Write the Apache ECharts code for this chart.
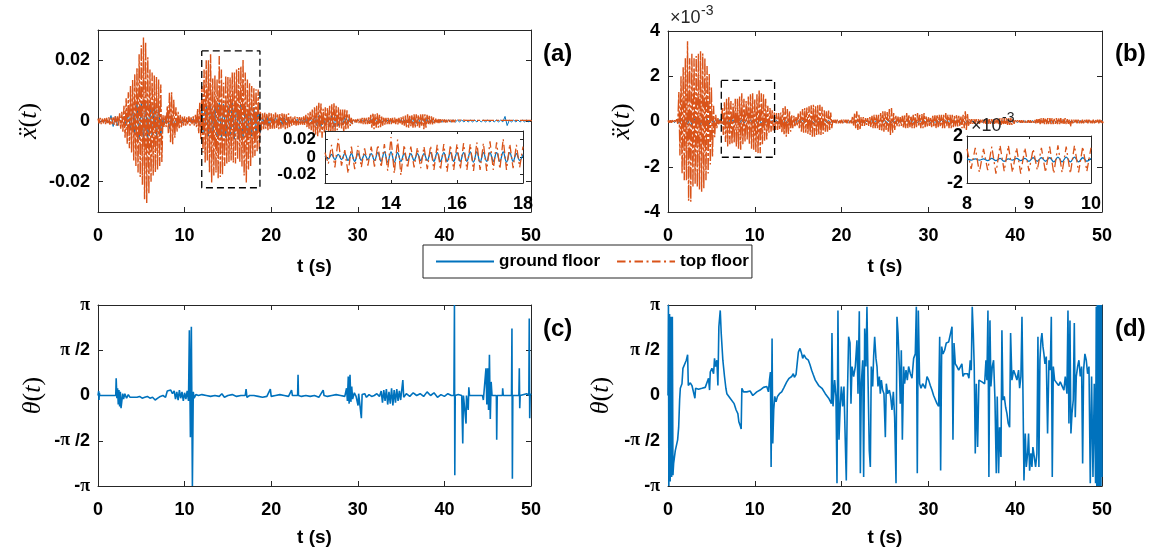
<!DOCTYPE html>
<html>
<head>
<meta charset="utf-8">
<script src="https://cdn.jsdelivr.net/npm/echarts@6/dist/echarts.min.js"></script>
<style>
  html, body { margin: 0; padding: 0; background: #fff; }
  #chart { width: 1151px; height: 553px; }
</style>
</head>
<body>
<div id="chart"></div>
<script>
// ---- data (acceleration values in units of 1e-3) ----
const envStep = 0.25;   // s between envelope readings of the top floor
const blueStep = 0.5;   // s between envelope readings of the ground floor

// (a) top floor: upper / lower envelope, t = 0 .. 50
const topUpA = [
  0.8,1,0.8,1, 1,1.2,1,1.2, 1.5,1.5,2.5,3, 5,7.5,9.5,11.5, 13.5,15.5,17.5,22,
  25,27.5,26,21, 17,16,15,14.5, 13.7,12,2,1.8, 5,9.3,9.5,7, 4.5,3,2,1.5,
  1.5,1.2,1.5,1.2, 1.5,2,4,6, 11.5,17,20,20, 22,14,15,13.7, 21.4,17,12.6,15,
  14.5,14.3,16,16, 17,17.5,18,20.3, 16,13.7,12.5,11.5, 11,10.5,10.4,3, 2.5,2.8,2.5,2.7,
  2.5,2.2,2.8,2.5, 2.3,2.5,2.6,2.2, 2.5,1.5,1.2,1.5, 1.3,1.5,1.2,1.5, 2,2.5,3,3.8,
  4.5,5,6,5.8, 4,4.5,4.3,5, 5.5,6,5,4.5, 3.8,3.8,3.8,3.5, 2.2,1,0.5,0.5,
  0.7,0.8,1,1, 1,1.2,2,2.7, 2.2,2.5,2,1.7, 1.3,1,1,1, 1,1.1,1,1,
  1.2,1.5,1.8,2.2, 1.7,2,2.2,2.2, 2,2.2,2.2,2.2, 2,1.7,1.5,1.2, 0.8,0.8,0.6,0.5,
  0.5,0.4,0.4,0.4, 0.4,0.3,0.3,0.3, 0.3,0.3,0.2,0.2, 0.2,0.2,0.2,0.2, 0.2,0.2,0.2,0.2,
  0.2,0.2,0.2,0.2, 0.2,0.2,0.2,0.2, 0.2,0.2,0.2,0.2, 0.2,0.2,0.2,0.2, 0.2,0.2,0.2,0.2,
  0.2
];
const topLowA = [
  -0.8,-1,-0.8,-1, -1,-1.2,-1,-1.2, -1.5,-1.5,-2.5,-3.5, -5.5,-7.5,-9,-10.4, -13,-14.8,-17,-18.5,
  -21,-25.8,-27,-24, -20,-18,-17,-16, -14.8,-13.5,-2,-2, -4,-7,-7.7,-5.5, -3.5,-2.7,-2,-1.5,
  -1.5,-1.2,-1.5,-1.2, -1.5,-2,-4,-6, -10.4,-13.7,-13,-17, -20.3,-18,-17,-19, -18.5,-17.6,-14.8,-14,
  -13.5,-13,-13.7,-14, -12.6,-13.5,-15,-18, -20.3,-16,-14.8,-12, -11.5,-10,-9.3,-3, -2.7,-2.5,-3,-2.6,
  -2.8,-2.5,-2.3,-2.7, -2.5,-2.2,-2.7,-2.4, -2,-1.5,-1.3,-1.5, -1.4,-1.2,-1.5,-1.3, -2,-2.5,-3,-3.8,
  -4.5,-5,-4,-5.5, -3.8,-3.3,-3.5,-4.5, -3.8,-3.5,-3,-2.2, -2.5,-3.8,-2.7,-2.5, -1.6,-1,-0.5,-0.5,
  -0.7,-0.8,-1,-1, -1,-1.3,-2.2,-2.7, -2.2,-2.2,-2,-1.5, -1.2,-1,-1,-1, -1,-1,-1.1,-1,
  -1.2,-1.5,-2,-2.2, -1.7,-2.2,-2.2,-1.7, -2.2,-1.7,-2.7,-2.2, -1.1,-1.2,-1.1,-0.8, -0.8,-0.7,-0.6,-0.5,
  -0.5,-0.4,-0.4,-0.4, -0.4,-0.3,-0.3,-0.3, -0.3,-0.3,-0.2,-0.2, -0.2,-0.2,-0.2,-0.2, -0.2,-0.2,-0.2,-0.2,
  -0.2,-0.2,-0.2,-0.2, -0.2,-0.2,-0.2,-0.2, -0.2,-0.2,-0.2,-0.2, -0.2,-0.2,-0.2,-0.2, -0.2,-0.2,-0.2,-0.2,
  -0.2
];
// (a) ground floor: amplitude, t = 0 .. 50 every 0.5 s
const groundAmpA = [
  0.3,0.3,0.5,1.8,1.5,0.5,1.5,3,4.5,6,
  6.5,6,5.5,5,5,0.8,2.5,2,1,0.6,
  0.5,0.5,0.8,1.5,4,5,5.5,5,6,5.5,
  5,6,6,5.5,5,5,4.5,4,1.2,1.5,
  1.2,1.3,1.2,1.1,0.8,0.6,0.6,0.6,0.8,1,
  1.5,1.8,1.5,1.8,2,1.5,1.3,1.2,0.8,0.3,
  0.3,0.4,0.5,0.8,0.8,0.6,0.4,0.4,0.4,0.4,
  0.5,0.6,0.8,0.8,0.8,0.8,0.7,0.5,0.4,0.4,
  0.4,0.4,0.4,0.3,0.3,0.3,0.3,0.3,0.3,0.3,
  0.3,0.3,0.3,0.3,1.5,0.3,0.3,0.3,0.3,0.3,
  0.3
];

// (b) top floor envelope
const topUpB = [
  0.05,0.05,0.05,0.05, 0.1,1.3,2,2.4, 2.8,3.55,2.8,3, 2.8,2.9,3,3.1, 3,2.8,2.45,2.1,
  1.5,0.7,0.3,0.15, 0.1,0.6,0.85,1, 1.1,0.9,0.8,1, 1,1.1,1.25,1, 0.9,1.1,1.2,1.25,
  1,1.2,1.4,1.25, 1.2,1,0.7,0.6, 0.5,0.4,0.37,0.37, 0.4,0.6,0.67,0.55, 0.45,0.3,0.25,0.2,
  0.35,0.45,0.55,0.6, 0.62,0.67,0.72,0.74, 0.67,0.72,0.74,0.65, 0.5,0.45,0.48,0.4, 0.1,0.08,0.08,0.08,
  0.08,0.08,0.08,0.08, 0.08,0.2,0.37,0.45, 0.3,0.2,0.2,0.15, 0.15,0.2,0.25,0.3, 0.3,0.3,0.37,0.45,
  0.45,0.42,0.55,0.6, 0.37,0.25,0.22,0.2, 0.25,0.3,0.37,0.3, 0.25,0.3,0.33,0.37, 0.3,0.33,0.37,0.25,
  0.2,0.2,0.25,0.27, 0.3,0.3,0.3,0.3, 0.37,0.3,0.3,0.3, 0.25,0.3,0.25,0.22, 0.3,0.45,0.35,0.1,
  0.1,0.1,0.1,0.1, 0.08,0.08,0.1,0.1, 0.1,0.1,0.1,0.1, 0.12,0.15,0.15,0.15, 0.15,0.15,0.15,0.1,
  0.05,0.05,0.05,0.05, 0.05,0.05,0.05,0.05, 0.05,0.08,0.1,0.15, 0.15,0.15,0.15,0.15, 0.15,0.15,0.12,0.15,
  0.15,0.15,0.12,0.15, 0.1,0.08,0.08,0.08, 0.08,0.08,0.08,0.08, 0.08,0.08,0.08,0.08, 0.08,0.08,0.08,0.08,
  0.08
];
const topLowB = [
  -0.05,-0.05,-0.05,-0.05, -0.1,-1.5,-2.3,-2.6, -2.6,-3.5,-3.55,-2.9, -2.75,-2.9,-3,-3.1, -2.95,-2.6,-2.3,-1.9,
  -1.55,-0.7,-0.3,-0.15, -0.1,-0.6,-0.9,-1.1, -1,-1,-0.95,-1.1, -1.2,-1.25,-1,-0.9, -0.8,-1,-1.2,-1.25,
  -1.35,-1.4,-1.4,-1, -0.85,-0.8,-0.5,-0.45, -0.4,-0.37,-0.37,-0.37, -0.5,-0.6,-0.67,-0.55, -0.45,-0.3,-0.25,-0.2,
  -0.3,-0.45,-0.5,-0.5, -0.55,-0.6,-0.67,-0.67, -0.6,-0.6,-0.6,-0.55, -0.45,-0.45,-0.37,-0.3, -0.1,-0.08,-0.08,-0.08,
  -0.08,-0.08,-0.08,-0.08, -0.08,-0.2,-0.3,-0.37, -0.37,-0.2,-0.2,-0.15, -0.2,-0.25,-0.3,-0.3, -0.3,-0.37,-0.4,-0.45,
  -0.37,-0.45,-0.6,-0.5, -0.37,-0.22,-0.22,-0.2, -0.3,-0.3,-0.3,-0.25, -0.3,-0.3,-0.25,-0.22, -0.3,-0.3,-0.25,-0.22,
  -0.2,-0.25,-0.25,-0.3, -0.25,-0.25,-0.3,-0.3, -0.22,-0.3,-0.3,-0.25, -0.22,-0.22,-0.22,-0.3, -0.3,-0.37,-0.22,-0.1,
  -0.1,-0.1,-0.1,-0.1, -0.08,-0.08,-0.1,-0.1, -0.1,-0.1,-0.1,-0.1, -0.12,-0.15,-0.15,-0.15, -0.15,-0.15,-0.15,-0.1,
  -0.05,-0.05,-0.05,-0.05, -0.05,-0.05,-0.05,-0.05, -0.05,-0.08,-0.1,-0.12, -0.12,-0.12,-0.12,-0.12, -0.12,-0.12,-0.1,-0.12,
  -0.12,-0.12,-0.1,-0.12, -0.1,-0.22,-0.08,-0.08, -0.08,-0.08,-0.08,-0.08, -0.08,-0.08,-0.08,-0.08, -0.08,-0.08,-0.08,-0.08,
  -0.08
];
const groundAmpB = [
  0.03,0.05,0.08,0.15,0.15,0.15,0.15,0.15,0.15,0.12,
  0.1,0.1,0.1,0.08,0.08,0.08,0.08,0.08,0.08,0.08,
  0.08,0.08,0.06,0.06,0.05,0.05,0.05,0.05,0.05,0.05,
  0.05,0.06,0.06,0.06,0.06,0.06,0.05,0.05,0.04,0.04,
  0.04,0.04,0.04,0.04,0.04,0.04,0.04,0.04,0.04,0.04,
  0.05,0.05,0.05,0.05,0.05,0.05,0.05,0.05,0.05,0.05,
  0.05,0.05,0.05,0.05,0.05,0.05,0.05,0.05,0.05,0.05,
  0.04,0.04,0.04,0.04,0.04,0.04,0.04,0.04,0.04,0.04,
  0.04,0.04,0.04,0.04,0.04,0.04,0.04,0.04,0.04,0.04,
  0.04,0.04,0.04,0.04,0.04,0.04,0.04,0.04,0.04,0.04,
  0.04
];

// insets: half-cycle extremes
const insetStartA = 12, insetStepA = 0.1;
const insetTopA = [
  5,-8,14,-12,21,-10,8,-19,12,-14,
  13,-12,10,-10,12,-11,14,-12,15,-16,
  23,-19,20,-21,14,-13,12,-12,11,-13,
  12,-14,13,-15,14,-15,15,-17,14,-15,
  15,-14,16,-15,15,-16,17,-15,16,-16,
  18,-15,17,-14,21,-15,15,-13,14,-12,
  12
];
const insetGroundA = [
  1,-2,3,-3,3,-3,4,-4,4,-5,
  4,-4,3,-3,4,-4,5,-5,6,-6,
  6,-6,5,-5,4,-4,4,-4,4,-4,
  4,-4,5,-5,5,-5,5,-5,5,-5,
  5,-5,5,-5,6,-6,6,-6,5,-5,
  5,-5,5,-5,6,-6,5,-5,4,-4,
  3
];
const insetTicksA = [-20, 0, 20];
const insetStartB = 8, insetStepB = 2 / 30;
const insetTopB = [0.9,-0.8,1.0,-1.1,0.9,-0.9,1.1,-1.2,1.2,-1.0,1.2,-1.1,1.0,-1.2,1.0,-1.0,
  0.9,-0.9,1.0,-1.1,1.1,-1.2,1.2,-1.1,1.1,-1.2,1.2,-1.1,1.1,-1.0,1.0];
const insetGroundB = [0.05,-0.05,0.05,-0.05,0.05,-0.1,0.1,-0.1,0.1,-0.15,0.05,-0.05,0.1,-0.1,0.1,-0.15,
  0.15,-0.15,0.15,-0.15,0.15,-0.2,0.2,-0.2,0.2,-0.2,0.2,-0.2,0.15,-0.15,0.1];

// dashed zoom boxes: [t0, t1, low, high]
const zoomBoxA = [11.98, 18.7, -22, 23.1];
const zoomBoxB = [6.14, 12.28, -1.58, 1.82];

// theta(t), in units of pi: [t, theta/pi]
const thetaC = [
  [0,0],[0.08,0.05],[0.12,-0.05],[0.16,0.03],[0.2,0],[1,0],[2.05,0],[2.1,0.19],[2.18,-0.03],[2.26,0.08],
  [2.34,-0.1],[2.42,0.06],[2.5,-0.12],[2.58,0.04],[2.66,-0.14],[2.76,-0.16],[2.85,0.02],[2.95,-0.04],[3.1,0.02],
  [3.3,-0.03],[3.5,0.01],[3.7,-0.02],[3.9,0],[4.2,-0.02],[4.5,-0.02],[4.8,-0.01],[5.1,-0.03],[5.4,-0.02],
  [5.7,-0.01],[6,-0.03],[6.3,-0.02],[6.6,-0.05],[6.9,-0.03],[7.2,-0.01],[7.5,0],[7.8,-0.02],[8,0.05],[8.2,0.03],
  [8.4,0.06],[8.6,0.02],[8.8,0.05],[8.95,-0.04],[9.1,0.04],[9.25,-0.05],[9.4,0.06],[9.55,-0.03],[9.7,0.04],
  [9.85,-0.06],[10,0.03],[10.15,-0.04],[10.3,0.05],[10.45,-0.06],[10.55,0.72],[10.67,-0.46],[10.78,0.76],
  [10.9,-1],[11,0.04],[11.1,-0.03],[11.3,0.01],[11.6,0],[12,0.01],[12.5,0],[13,-0.01],[13.5,0],[14,-0.01],
  [14.3,0.02],[14.6,-0.02],[15,0],[15.5,0.01],[16,-0.01],[16.5,0],[17,0],[17.1,0.07],[17.2,-0.02],[17.5,0],
  [18,0],[18.5,-0.01],[19,-0.02],[19.5,-0.01],[19.9,0.07],[20,-0.01],[20.5,0],[21,0.01],[21.5,0],[22,-0.01],
  [22.35,0.06],[22.45,0],[22.8,0],[23.05,0],[23.1,0.23],[23.15,0],[23.5,-0.01],[24,0],[24.5,-0.01],[25,0],
  [25.5,-0.02],[26,0.06],[26.1,0],[26.5,-0.01],[27,0],[27.5,0.01],[28,0],[28.5,-0.01],[28.7,0.08],[28.8,-0.06],
  [28.9,0.21],[29,-0.09],[29.1,0.23],[29.2,-0.07],[29.3,0.1],[29.4,-0.04],[29.6,0.03],[29.8,-0.01],[30,0],
  [30.03,-0.11],[30.1,0.02],[30.3,0],[30.41,-0.25],[30.5,0.01],[30.8,0.02],[31,-0.02],[31.3,0.01],[31.6,-0.01],
  [31.9,0],[32.2,0.02],[32.5,-0.01],[32.7,0.05],[32.85,-0.08],[33,0.06],[33.15,-0.06],[33.3,0.07],[33.45,-0.1],
  [33.6,0.04],[33.75,-0.09],[33.9,0.08],[34.05,-0.11],[34.2,0.06],[34.35,-0.08],[34.5,0.07],[34.65,-0.06],
  [34.8,0.05],[34.95,-0.05],[35.2,0.17],[35.3,-0.02],[35.6,0.02],[36,-0.01],[36.4,0.03],[36.8,0],[37.2,0.02],
  [37.6,-0.01],[38,0.04],[38.4,0],[38.8,0.03],[39.2,-0.02],[39.6,0.01],[40,-0.01],[40.4,0.02],[40.8,0],[41.1,0],
  [41.16,1],[41.2,-0.88],[41.25,0],[41.6,0.01],[42,0],[42.12,-0.53],[42.2,0],[42.5,-0.31],[42.55,0],[42.75,-0.16],
  [42.82,0.09],[42.9,0],[43.5,0],[44,0],[44.4,0],[44.5,-0.05],[44.8,0.3],[44.9,-0.1],[45,0.3],[45.1,-0.16],
  [45.2,0.45],[45.3,-0.26],[45.4,0.15],[45.5,0],[46,0],[46.04,-0.49],[46.1,0],[46.7,0],[46.73,0.08],[46.8,0],
  [47.75,0],[47.8,0.74],[47.85,-0.92],[47.9,0],[48.6,0],[48.65,0.3],[48.7,-0.14],[48.75,0],[49.5,0.02],[49.75,0],
  [49.8,0.85],[49.85,-0.25],[49.9,0],[50,0.02]
];
const thetaD = [
  [0,0],[0.05,1],[0.1,-1],[0.18,0.9],[0.25,-0.95],[0.33,0.87],[0.42,-0.9],[0.5,0.87],[0.57,-0.88],[0.65,-0.75],
  [0.84,-0.61],[1.11,-0.49],[1.23,-0.35],[1.34,-0.05],[1.42,0.08],[1.61,0.13],[1.72,0.3],[1.88,0.28],[2.11,0.39],
  [2.26,0.45],[2.34,0.11],[2.57,0.14],[2.76,0.11],[2.95,0.09],[3.1,-0.03],[3.18,0.08],[3.52,0.07],[3.91,0.08],
  [4.29,0.09],[4.48,0.1],[4.67,0.19],[4.79,0.06],[4.87,0.26],[5.06,0.3],[5.25,0.24],[5.36,0.41],[5.48,0.32],
  [5.63,0.39],[5.75,0.11],[5.86,0.76],[6.02,0.94],[6.13,0.69],[6.32,0.39],[6.51,0.21],[6.67,0.08],[6.78,0.02],
  [6.97,0.04],[7.16,-0.03],[7.36,-0.05],[7.62,-0.09],[7.85,-0.16],[8.05,-0.2],[8.16,-0.29],[8.31,-0.33],
  [8.43,-0.37],[8.51,0.08],[8.7,0.04],[8.89,0.06],[9.08,0.04],[9.27,0.04],[9.46,0.05],[9.77,0],[9.96,-0.01],
  [10.23,0.04],[10.61,0.06],[11,0.09],[11.38,0.1],[11.57,0.04],[11.69,0.17],[11.8,0.26],[11.88,-0.79],
  [11.99,0.63],[12.07,-0.53],[12.18,-0.16],[12.3,-0.01],[12.45,-0.07],[12.61,-0.01],[12.84,0.02],[13.1,0.04],
  [13.37,0.09],[13.68,0.15],[13.95,0.19],[14.25,0.21],[14.44,0.24],[14.56,0.2],[14.75,0.23],[14.94,0.21],
  [15.02,0.48],[15.21,0.52],[15.4,0.46],[15.52,0.41],[15.67,0.45],[15.9,0.41],[16.17,0.39],[16.36,0.34],
  [16.55,0.28],[16.74,0.23],[16.97,0.17],
  [17.36,0.11],[17.74,0.08],[18.12,0.02],[18.51,-0.03],[18.82,-0.09],[18.89,0.69],[19.01,-0.12],[19.2,0.17],
  [19.35,-0.01],[19.47,-0.97],[19.58,0.94],[19.7,-0.49],[19.85,-0.09],[19.97,0.1],[20.12,-0.12],[20.27,0.1],
  [20.43,-0.53],[20.54,-0.94],[20.66,-0.05],[20.81,0.65],[20.97,0.58],[21.08,-0.09],[21.2,0.32],[21.39,0.21],
  [21.58,0.32],[21.77,0.61],[21.89,0.02],[22.04,0.93],[22.16,-0.86],[22.27,0.13],[22.43,0.39],[22.54,-0.9],
  [22.66,0.74],[22.81,0.32],[22.92,0.98],[23.04,0.21],[23.19,-0.61],[23.31,-0.79],[23.42,0.32],[23.58,0.1],
  [23.69,0.43],[23.81,0.65],[23.96,0.41],[24.08,0.32],[24.19,0.1],[24.35,0.21],[24.46,0.02],[24.58,0.17],
  [24.73,0.06],[24.88,0.02],[25.04,-0.46],[25.15,0.13],[25.31,0.02],[25.5,0.06],[25.65,-0.01],[25.8,-0.16],
  [25.96,0.04],[26.11,-0.24],[26.27,-0.97],[26.38,0.87],[26.5,0.69],[26.65,0.32],[26.76,-0.09],[26.88,0.5],
  [27,-0.49],[27.15,0.32],[27.26,0.13],[27.42,0.28],[27.57,0.17],[27.72,0.32],[27.92,0.24],[28.11,0.19],
  [28.3,0.41],[28.49,0.46],[28.61,0.98],[28.72,-0.86],[28.84,0.94],[28.99,0.13],[29.15,0.08],[29.34,0.13],
  [29.49,0.11],[29.64,0.08],[29.84,0.21],[30.03,0.17],[30.22,0.11],[30.41,0.06],[30.6,0],[30.8,-0.01],
  [30.99,-0.09],[31.18,-0.12],[31.3,0.65],[31.41,-0.83],[31.53,0.54],[31.68,0.46],[31.87,0.5],[32.06,0.58],
  [32.33,0.59],[32.52,0.61],[32.72,0.76],[32.83,-0.49],[32.95,0.58],[33.1,0.35],[33.29,0.32],[33.49,0.28],
  [33.67,0.26],[33.86,0.35],[33.98,0.21],[34.13,0.24],[34.36,0.23],[34.52,0.24],[34.67,0.19],[34.82,0.39],
  [34.94,0.28],[35.05,0.98],[35.17,0.69],[35.28,0.32],[35.4,-0.64],[35.52,0.13],[35.67,-0.57],[35.82,0.17],
  [35.98,0.19],[36.17,0.15],[36.36,0.17],[36.48,0.13],[36.63,0.39],[36.74,0.17],[36.86,0.94],[36.97,-0.9],
  [37.09,0.83],[37.2,0.1],[37.36,0.32],[37.51,0.39],[37.67,-0.05],[37.82,-0.86],[37.93,-0.01],[38.09,-0.86],
  [38.2,-0.35],[38.36,-0.68],[38.47,0.72],[38.59,-0.05],[38.74,-0.01],[38.9,-0.13],[39.05,-0.2],[39.2,-0.31],
  [39.36,-0.35],[39.47,0.69],[39.62,0.17],[39.82,0.28],[40.01,0.23],[40.2,0.17],[40.39,0.28],[40.51,0.08],
  [40.66,0.21],[40.78,0.87],[40.89,0.06],[41.01,-0.94],[41.16,-0.42],[41.28,-0.79],[41.43,-0.64],[41.54,-0.42],
  [41.66,-0.83],[41.81,-0.64],[41.93,-0.79],[42.04,-0.57],[42.2,-0.68],[42.35,-0.79],[42.5,-0.64],[42.62,0.65],
  [42.73,-0.79],[42.85,0.39],[42.97,0.61],[43.08,0.69],[43.2,0.54],[43.31,0.46],[43.43,0.35],[43.58,0.43],
  [43.73,-0.42],[43.89,0.39],[44.04,0.28],[44.16,0.87],[44.27,-0.9],[44.39,0.32],[44.54,0.17],[44.73,0.15],
  [45,0.11],[45.19,0.15],[45.42,0.13],[45.61,0.06],[45.77,0.21],[45.96,0.02],[46.08,0.94],[46.19,-0.31],
  [46.31,0.83],[46.42,-0.42],[46.54,-0.2],[46.69,-0.05],[46.81,0.8],[46.92,-0.24],[47.04,0.21],[47.19,0.32],
  [47.34,0.39],[47.5,0.21],[47.65,0.32],[47.77,-0.75],[47.88,0.28],[48.03,0.46],[48.19,0.39],[48.34,0.24],
  [48.5,0.32],[48.65,-0.97],[48.8,0.21],[48.96,-0.9],[49.11,0.13],[49.26,-0.97],[49.34,0.98],[49.4,-1],
  [49.46,1],[49.52,-1],[49.58,1],[49.64,-1],[49.7,1],[49.76,-1],[49.82,1],[49.88,-1],[49.94,1],[50,-0.9]
];

// ---- styling ----
const AX = '#262626';
const BLUE = '#0072BD';
const ORANGE = '#D95319';
const DASHDOT = [8.5, 3.5, 2, 3.5];
const DENSE_DASHDOT = [12, 2, 3, 2];
const SANS = 'Liberation Sans, Arial, Helvetica, sans-serif';
const SERIF = 'Liberation Serif, DejaVu Serif, serif';

// envelope readings -> alternating trace
function zigzag(start, step, up, low) {
  const pts = [];
  for (let i = 0; i < up.length; i++) {
    const t = start + i * step;
    pts.push([t, up[i]]);
    pts.push([t + step / 2, low[i]]);
  }
  return pts;
}
function zigzagSym(start, step, amp) {
  return zigzag(start, step, amp, amp.map(a => -a));
}
function sampled(start, step, vals) {
  return vals.map((v, i) => [start + i * step, v]);
}
function boxPath(b) {
  return [[b[0], b[3]], [b[1], b[3]], [b[1], b[2]], [b[0], b[2]], [b[0], b[3]]];
}

const titleRich = {
  i: { fontFamily: SERIF, fontStyle: 'italic', fontSize: 26, color: '#000' },
  r: { fontFamily: SERIF, fontSize: 26, color: '#000' }
};
const labelFont = { color: '#000', fontFamily: SANS, fontWeight: 'bold', fontSize: 18 };

function xAxes(g, min, max, interval, o = {}) {
  const base = {
    type: 'value', gridIndex: g, min, max, interval, z: o.z || 0,
    axisLine: { show: true, onZero: false, lineStyle: { color: AX, width: 1 } },
    axisTick: { show: true, inside: true, length: o.tick || 5, lineStyle: { color: AX } },
    splitLine: { show: false }
  };
  return [
    Object.assign({}, base, {
      position: 'bottom',
      axisLabel: Object.assign({ margin: o.margin || 15, hideOverlap: false }, labelFont),
      name: o.name || '', nameLocation: 'middle', nameGap: o.nameGap || 40,
      nameTextStyle: { color: '#000', fontFamily: SANS, fontWeight: 'bold', fontSize: 19 }
    }),
    Object.assign({}, base, { position: 'top', axisLabel: { show: false } })
  ];
}

function yAxes(g, min, max, interval, o = {}) {
  const tick = { show: true, inside: true, length: o.tick || 5, lineStyle: { color: AX } };
  const label = Object.assign({ margin: o.margin || 8, hideOverlap: false, show: o.noLabel ? false : true }, labelFont);
  if (o.ticks) { tick.customValues = o.ticks; label.customValues = o.ticks; }
  if (o.fmt) label.formatter = o.fmt;
  if (o.rich) label.rich = o.rich;
  const base = {
    type: 'value', gridIndex: g, min, max, interval, z: o.z || 0,
    axisLine: { show: true, onZero: false, lineStyle: { color: AX, width: 1 } },
    axisTick: tick,
    splitLine: { show: false }
  };
  return [
    Object.assign({}, base, {
      position: 'left', axisLabel: label,
      name: o.name || '', nameLocation: 'middle', nameRotate: 90, nameGap: o.nameGap || 54,
      nameTextStyle: { rich: titleRich }
    }),
    Object.assign({}, base, { position: 'right', axisLabel: { show: false } })
  ];
}

const milliFmt = v => String(Math.round(v) / 1000);
const piLabels = { '-1': '{b|-}{p|π}', '-0.5': '{b|-}{p|π}{b| /2}', '0': '{b|0}', '0.5': '{p|π}{b| /2}', '1': '{p|π}' };
const piFmt = v => piLabels[String(v)] || '';
const piRich = {
  p: { fontFamily: SERIF, fontSize: 18, color: '#000' },
  b: { fontFamily: SANS, fontWeight: 'bold', fontSize: 18, color: '#000' }
};

function line(name, g, data, o = {}) {
  return {
    name, type: 'line', xAxisIndex: 2 * g, yAxisIndex: 2 * g, data,
    symbol: 'none', silent: true, animation: false, z: o.z || 2,
    smooth: o.smooth || false,
    lineStyle: { color: o.color || BLUE, width: o.width || 1, type: o.type || 'solid' },
    itemStyle: { color: o.color || BLUE },
    emphasis: { disabled: true }
  };
}

function textEl(text, x, y, size, extra = {}) {
  return {
    type: 'text', x, y, z: 20, silent: true,
    style: Object.assign({ text, fontFamily: SANS, fontWeight: 'bold', fontSize: size, fill: '#000', verticalAlign: 'middle' }, extra)
  };
}

const chart = echarts.init(document.getElementById('chart'));

chart.setOption({
  animation: false,
  backgroundColor: '#fff',
  grid: [
    { left: 98, top: 30, width: 433, height: 182 },
    { left: 668, top: 31, width: 434, height: 181 },
    { left: 98, top: 305, width: 433, height: 181 },
    { left: 668, top: 305, width: 434, height: 181 },
    { left: 325, top: 131, width: 198, height: 52, show: true, backgroundColor: '#fff', borderWidth: 0, z: 10 },
    { left: 967, top: 136, width: 124, height: 47, show: true, backgroundColor: '#fff', borderWidth: 0, z: 10 }
  ],
  xAxis: [].concat(
    xAxes(0, 0, 50, 10, { name: 't (s)', nameGap: 45 }),
    xAxes(1, 0, 50, 10, { name: 't (s)', nameGap: 45 }),
    xAxes(2, 0, 50, 10, { name: 't (s)', nameGap: 42 }),
    xAxes(3, 0, 50, 10, { name: 't (s)', nameGap: 42 }),
    xAxes(4, 12, 18, 2, { margin: 12, z: 11, tick: 3 }),
    xAxes(5, 8, 10, 1, { margin: 12, z: 11, tick: 3 })
  ),
  yAxis: [].concat(
    yAxes(0, -30, 30, 10, { ticks: [-20, 0, 20], fmt: milliFmt, name: '{i|ẍ}{r|(}{i|t}{r|)}', nameGap: 56 }),
    yAxes(1, -4, 4, 2, { name: '{i|ẍ}{r|(}{i|t}{r|)}', nameGap: 33 }),
    yAxes(2, -1, 1, 0.5, { fmt: piFmt, rich: piRich, name: '{i|θ}{r|(}{i|t}{r|)}', nameGap: 52 }),
    yAxes(3, -1, 1, 0.5, { fmt: piFmt, rich: piRich, name: '{i|θ}{r|(}{i|t}{r|)}', nameGap: 54 }),
    yAxes(4, -30, 30, 10, { ticks: insetTicksA, z: 11, tick: 3, noLabel: true }),
    yAxes(5, -2, 2, 2, { margin: 4, z: 11, tick: 3 })
  ),
  legend: {
    data: ['ground floor', { name: 'top floor', lineStyle: { type: DASHDOT } }],
    left: 423, top: 245,
    itemWidth: 58, itemHeight: 14, itemGap: 16,
    padding: [8, 3, 8, 12],
    borderColor: AX, borderWidth: 1, backgroundColor: '#fff',
    selectedMode: false,
    itemStyle: { opacity: 0 },
    textStyle: { fontFamily: SANS, fontWeight: 'bold', fontSize: 17, color: '#000' }
  },
  series: [
    line('ground floor', 0, zigzagSym(0, blueStep, groundAmpA)),
    line('top floor', 0, zigzag(0, envStep, topUpA, topLowA), { color: ORANGE, type: DENSE_DASHDOT, width: 1.4, z: 3 }),
    line('boxA', 0, boxPath(zoomBoxA), { color: '#000', type: [7, 4], width: 1.3, z: 4 }),

    line('ground floor', 1, zigzagSym(0, blueStep, groundAmpB)),
    line('top floor', 1, zigzag(0, envStep, topUpB, topLowB), { color: ORANGE, type: DENSE_DASHDOT, width: 1.4, z: 3 }),
    line('boxB', 1, boxPath(zoomBoxB), { color: '#000', type: [7, 4], width: 1.3, z: 4 }),

    line('thetaC', 2, thetaC, { width: 1.6 }),
    line('thetaD', 3, thetaD, { width: 1.6 }),

    line('ground floor', 4, sampled(insetStartA, insetStepA, insetGroundA), { z: 12, smooth: 0.4, width: 1.3 }),
    line('top floor', 4, sampled(insetStartA, insetStepA, insetTopA), { color: ORANGE, type: DASHDOT, width: 1.3, z: 13 }),
    line('ground floor', 5, sampled(insetStartB, insetStepB, insetGroundB), { z: 12, smooth: 0.4, width: 1.3 }),
    line('top floor', 5, sampled(insetStartB, insetStepB, insetTopB), { color: ORANGE, type: DASHDOT, width: 1.3, z: 13 })
  ]
});

// panel letters, exponent notes, and the inset (a) tick labels placed through the inset's y scale
const graphics = [
  textEl('(a)', 543, 54, 24),
  textEl('(b)', 1115, 54, 24),
  textEl('(c)', 543, 329, 24),
  textEl('(d)', 1115, 329, 24),
  textEl('×10', 670, 18, 18, { fontWeight: 'normal', fill: AX }),
  textEl('-3', 701, 11, 14, { fontWeight: 'normal', fill: AX }),
  textEl('×10', 971, 126, 18, { fontWeight: 'normal', fill: AX }),
  textEl('-3', 1002, 118, 14, { fontWeight: 'normal', fill: AX })
];
insetTicksA.forEach(v => {
  const p = chart.convertToPixel({ xAxisIndex: 8, yAxisIndex: 8 }, [insetStartA, v]);
  graphics.push(textEl(milliFmt(v), p[0] - 9, p[1], 17, { align: 'right' }));
});
chart.setOption({ graphic: graphics });
</script>
</body>
</html>
